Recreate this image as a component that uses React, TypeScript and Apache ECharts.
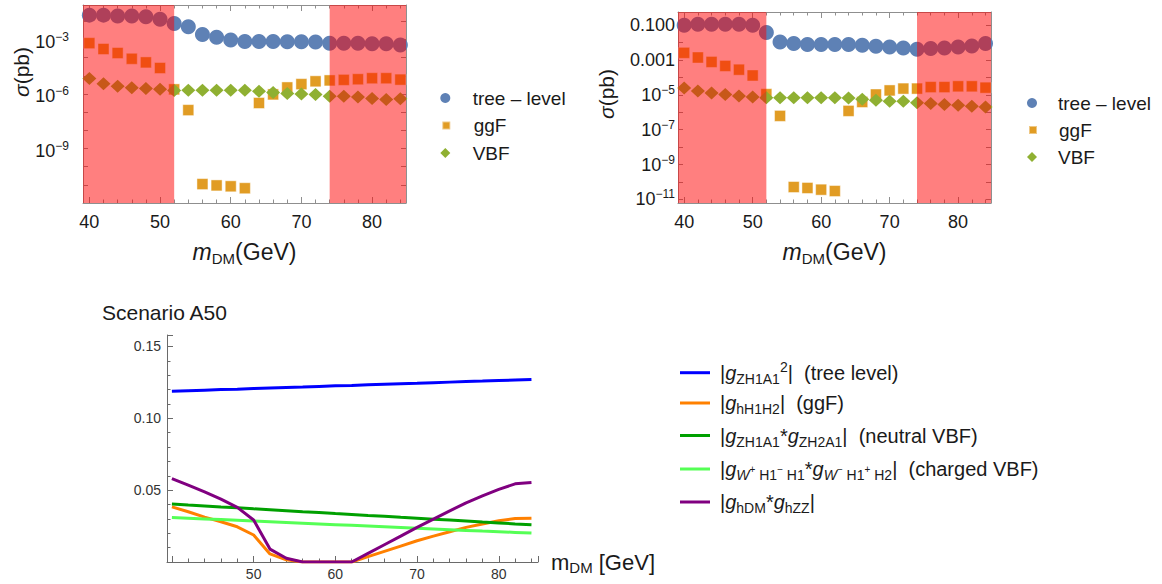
import React, { useEffect, useRef } from 'react';
import * as echarts from 'echarts';

// ---------- data ----------
const mDM = [40, 42, 44, 46, 48, 50, 52, 54, 56, 58, 60, 62, 64, 66, 68, 70, 72, 74, 76, 78, 80, 82, 84];

// left panel, sigma in pb
const sigmaTreeL = [2.2e-2, 2.2e-2, 2.0e-2, 2.0e-2, 1.8e-2, 1.3e-2, 7.5e-3, 5.1e-3, 1.9e-3, 1.35e-3, 9.5e-4, 7.8e-4, 7.8e-4, 7.8e-4, 7.6e-4, 7.6e-4, 7.4e-4, 6.3e-4, 6.3e-4, 6.2e-4, 5.8e-4, 5.8e-4, 5.0e-4];
const sigmaGgfL = [6.3e-4, 3.0e-4, 1.8e-4, 8.7e-5, 5.5e-5, 2.7e-5, 1.8e-6, 1.3e-7, 1.1e-11, 9.3e-12, 8.3e-12, 6.5e-12, 3.2e-7, 9.5e-7, 2.3e-6, 3.5e-6, 5.0e-6, 5.6e-6, 6.0e-6, 6.5e-6, 7.4e-6, 7.4e-6, 6.2e-6];
const sigmaVbfL = [7.1e-6, 3.7e-6, 2.7e-6, 2.2e-6, 2.0e-6, 1.8e-6, 1.55e-6, 1.6e-6, 1.6e-6, 1.6e-6, 1.6e-6, 1.6e-6, 1.4e-6, 1.2e-6, 1.07e-6, 1.0e-6, 9.3e-7, 7.6e-7, 7.6e-7, 6.8e-7, 5.6e-7, 5.0e-7, 5.5e-7];

// right panel, sigma in pb
const sigmaTreeR = [0.1, 0.115, 0.115, 0.115, 0.115, 0.1, 0.038, 0.011, 8.9e-3, 7.8e-3, 7.8e-3, 7.8e-3, 7.8e-3, 7.1e-3, 6.2e-3, 5.6e-3, 5.0e-3, 4.2e-3, 4.6e-3, 5.0e-3, 5.6e-3, 6.5e-3, 8.9e-3];
const sigmaGgfR = [2.6e-3, 1.4e-3, 7.8e-4, 4.6e-4, 2.8e-4, 1.3e-4, 1.1e-5, 6.2e-7, 5.1e-11, 4.5e-11, 3.6e-11, 3.0e-11, 1.2e-6, 3.9e-6, 1.05e-5, 1.8e-5, 2.3e-5, 2.3e-5, 2.8e-5, 2.8e-5, 3.1e-5, 3.1e-5, 2.6e-5];
const sigmaVbfR = [2.5e-5, 1.66e-5, 1.3e-5, 1.05e-5, 8.7e-6, 7.6e-6, 6.9e-6, 6.9e-6, 6.9e-6, 6.9e-6, 6.9e-6, 6.9e-6, 6.6e-6, 5.6e-6, 4.9e-6, 4.3e-6, 4.3e-6, 3.5e-6, 3.2e-6, 2.8e-6, 2.5e-6, 2.2e-6, 2.0e-6];

// excluded mass bands (GeV)
const bandsX = [[39.1, 52], [74, 84.8]];

// Scenario A50 couplings
const gTree = [0.1188, 0.1192, 0.1196, 0.12, 0.1203, 0.1207, 0.1211, 0.1215, 0.1218, 0.1222, 0.1226, 0.1229, 0.1233, 0.1237, 0.1241, 0.1244, 0.1248, 0.1252, 0.1256, 0.1259, 0.1263, 0.1267, 0.1271];
const gGgf = [0.0384, 0.035, 0.0312, 0.028, 0.0245, 0.0188, 0.0056, 0.0015, 0, 0, 0, 0, 0.0037, 0.0074, 0.0111, 0.0148, 0.018, 0.0211, 0.0241, 0.0265, 0.0287, 0.0303, 0.0305];
const gNeutral = [0.0403, 0.0396, 0.039, 0.0383, 0.0377, 0.037, 0.0364, 0.0357, 0.035, 0.0344, 0.0337, 0.0331, 0.0324, 0.0318, 0.0311, 0.0305, 0.0298, 0.0292, 0.0285, 0.0278, 0.0272, 0.0265, 0.0259];
const gCharged = [0.031, 0.0305, 0.03, 0.0295, 0.029, 0.0285, 0.028, 0.0275, 0.027, 0.0265, 0.026, 0.0255, 0.025, 0.0245, 0.024, 0.0235, 0.023, 0.0225, 0.022, 0.0215, 0.0211, 0.0206, 0.0201];
const gHdm = [0.0581, 0.0535, 0.0488, 0.0437, 0.038, 0.0292, 0.009, 0.0026, 0, 0, 0, 0, 0.006, 0.012, 0.018, 0.0241, 0.0299, 0.0356, 0.0412, 0.046, 0.0505, 0.0544, 0.0553];

// tick labels
const xTickLabels = [40, 50, 60, 70, 80];
const leftLogLabels = [-3, -6, -9];
const rightLogLabels = [-1, -3, -5, -7, -9, -11];
const bottomXLabels = [50, 60, 70, 80];
const bottomYLabels = [0.05, 0.1, 0.15];

// ---------- style ----------
const FONT = "'Liberation Sans', Arial, Helvetica, sans-serif";
const INK = '#1a1a1a';
const FRAME = '#8f8f8f';
const BAND = 'rgba(255,0,0,0.5)';
const C_TREE = '#5E81B5';
const C_GGF = '#E19C24';
const C_VBF = '#8FB032';

const supRich = {
  b: { fontFamily: FONT, fontSize: 18, lineHeight: 22, color: INK },
  p: { fontFamily: FONT, fontSize: 12, lineHeight: 12, verticalAlign: 'top', color: INK },
};

const isInt = (v: number) => Math.abs(v - Math.round(v)) < 1e-6;

const frameX = (gridIndex: number, position: string, labels: boolean, min: number, max: number) => ({
  type: 'value',
  gridIndex,
  position,
  min,
  max,
  minInterval: 10,
  maxInterval: 10,
  axisLine: { show: true, onZero: false, lineStyle: { color: FRAME, width: 1 } },
  axisTick: { show: true, inside: true, length: 6, lineStyle: { color: FRAME } },
  minorTick: { show: true, splitNumber: 5, length: 3.5, lineStyle: { color: FRAME } },
  splitLine: { show: false },
  minorSplitLine: { show: false },
  axisLabel: labels
    ? {
        show: true,
        margin: 10,
        fontFamily: FONT,
        fontSize: 18,
        color: INK,
        formatter: (v: number) => (xTickLabels.some((t) => Math.abs(t - v) < 1e-6) ? String(Math.round(v)) : ''),
      }
    : { show: false },
  name: labels ? '{mi|m}{sb|DM}{n|(GeV)}' : '',
  nameLocation: 'middle',
  nameGap: 35,
  nameTextStyle: {
    rich: {
      mi: { fontFamily: FONT, fontSize: 23, lineHeight: 28, fontStyle: 'italic', color: INK },
      sb: { fontFamily: FONT, fontSize: 15, lineHeight: 16, verticalAlign: 'bottom', color: INK },
      n: { fontFamily: FONT, fontSize: 23, lineHeight: 28, color: INK },
    },
  },
});

const frameY = (gridIndex: number, position: string, labelFn: null | ((v: number) => string), min: number, max: number, margin: number, pad: number[]) => ({
  type: 'value',
  gridIndex,
  position,
  min,
  max,
  minInterval: 1,
  maxInterval: 1,
  axisLine: { show: true, onZero: false, lineStyle: { color: FRAME, width: 1 } },
  axisTick: { show: true, inside: true, length: 5, lineStyle: { color: FRAME } },
  splitLine: { show: false },
  axisLabel: labelFn
    ? { show: true, margin, padding: pad, formatter: labelFn, rich: supRich }
    : { show: false },
});

const leftLabel = (v: number) => {
  if (!isInt(v)) return '';
  const e = Math.round(v);
  return leftLogLabels.includes(e) ? `{b|10}{p|−${Math.abs(e)}}` : '';
};
const rightLabel = (v: number) => {
  if (!isInt(v)) return '';
  const e = Math.round(v);
  if (!rightLogLabels.includes(e)) return '';
  if (e === -1) return '{b|0.100}';
  if (e === -3) return '{b|0.001}';
  return `{b|10}{p|−${Math.abs(e)}}`;
};

const pts = (vals: number[]) => mDM.map((x, i) => [x, Math.log10(vals[i])]);
const linePts = (vals: number[]) => mDM.map((x, i) => [x, vals[i]]);

const scatter = (name: string, vals: number[], idx: number, symbol: string, size: any, color: string, border: boolean) => ({
  type: 'scatter',
  name,
  xAxisIndex: idx,
  yAxisIndex: idx,
  data: pts(vals),
  symbol,
  symbolSize: size,
  itemStyle: border
    ? { color, opacity: 1, borderColor: 'rgba(255,255,255,0.45)', borderWidth: 1 }
    : { color, opacity: 1 },
  emphasis: { disabled: true },
  z: 2,
});

const bandSeries = (idx: number, yMid: number) => ({
  type: 'custom',
  xAxisIndex: idx,
  yAxisIndex: idx,
  z: 10,
  silent: true,
  data: bandsX,
  renderItem: (params: any, api: any) => {
    const a = api.coord([api.value(0), yMid]);
    const b = api.coord([api.value(1), yMid]);
    const cs = params.coordSys;
    return {
      type: 'rect',
      shape: { x: a[0], y: cs.y, width: b[0] - a[0], height: cs.height },
      style: { fill: BAND },
    };
  },
});

const markerLegend = (name: string, icon: string, size: number, cx: number, cy: number, textX: number) => ({
  show: true,
  orient: 'horizontal',
  left: cx - size / 2,
  top: cy - 11,
  padding: 0,
  itemWidth: size,
  itemHeight: size,
  icon,
  selectedMode: false,
  data: [name],
  textStyle: {
    fontFamily: FONT,
    fontSize: 19,
    lineHeight: 22,
    color: INK,
    padding: [0, 0, 0, textX - (cx + size / 2) - 5],
  },
});

const TREE = 'tree – level';
const legendRich = {
  n: { fontFamily: FONT, fontSize: 20, lineHeight: 26, color: INK },
  g: { fontFamily: FONT, fontSize: 20, lineHeight: 26, fontStyle: 'italic', color: INK },
  s: { fontFamily: FONT, fontSize: 14, lineHeight: 16, verticalAlign: 'bottom', color: INK },
  si: { fontFamily: FONT, fontSize: 14, lineHeight: 16, verticalAlign: 'bottom', fontStyle: 'italic', color: INK },
  p: { fontFamily: FONT, fontSize: 14, lineHeight: 16, verticalAlign: 'top', color: INK },
  q: { fontFamily: FONT, fontSize: 10, lineHeight: 12, color: INK },
};
const legendText: Record<string, string> = {
  'tree level': '{n||}{g|g}{s|ZH1A1}{p|2}{n||  (tree level)}',
  'ggF coupling': '{n||}{g|g}{s|hH1H2}{n||  (ggF)}',
  'neutral VBF': '{n||}{g|g}{s|ZH1A1}{n|*}{g|g}{s|ZH2A1}{n||  (neutral VBF)}',
  'charged VBF': '{n||}{g|g}{si|W}{q|+}{s| H1}{q|−}{s| H1}{n|*}{g|g}{si|W}{q|−}{s| H1}{q|+}{s| H2}{n||  (charged VBF)}',
  hDMhZZ: '{n||}{g|g}{s|hDM}{n|*}{g|g}{s|hZZ}{n||}',
};
const lineLegendRows: [string, number][] = [
  ['tree level', 372.7],
  ['ggF coupling', 406],
  ['neutral VBF', 438.5],
  ['charged VBF', 472],
  ['hDMhZZ', 505],
];
const lineLegend = (name: string, cy: number) => ({
  show: true,
  orient: 'horizontal',
  left: 680,
  top: cy - 13,
  padding: 0,
  itemWidth: 30,
  itemHeight: 3,
  icon: 'rect',
  selectedMode: false,
  data: [name],
  formatter: (n: string) => legendText[n],
  textStyle: { rich: legendRich, padding: [0, 0, 0, 5] },
});

const lineSeries = (name: string, vals: number[], color: string) => ({
  type: 'line',
  name,
  xAxisIndex: 4,
  yAxisIndex: 4,
  data: linePts(vals),
  symbol: 'none',
  lineStyle: { color, width: 3 },
  itemStyle: { color },
  emphasis: { disabled: true },
});

const sigmaText = (x: number, y: number) => ({
  type: 'text',
  x,
  y,
  rotation: Math.PI / 2,
  silent: true,
  style: {
    text: '{i|σ}{n|(pb)}',
    align: 'center',
    verticalAlign: 'middle',
    rich: {
      i: { fontFamily: FONT, fontSize: 21, fontStyle: 'italic', fill: INK, lineHeight: 24 },
      n: { fontFamily: FONT, fontSize: 21, fill: INK, lineHeight: 24 },
    },
  },
});

const option: any = {
  animation: false,
  backgroundColor: '#ffffff',
  title: {
    text: 'Scenario A50',
    left: 102,
    top: 300,
    padding: 0,
    textStyle: { fontFamily: FONT, fontSize: 21, fontWeight: 'normal', color: INK, lineHeight: 24 },
  },
  grid: [
    { left: 83, top: 5, width: 323, height: 198, containLabel: false, outerBoundsMode: 'none' },
    { left: 678, top: 12, width: 313, height: 191, containLabel: false, outerBoundsMode: 'none' },
    { left: 167, top: 335, width: 371, height: 227, containLabel: false, outerBoundsMode: 'none' },
  ],
  xAxis: [
    frameX(0, 'bottom', true, 39.1, 84.8),
    frameX(0, 'top', false, 39.1, 84.8),
    frameX(1, 'bottom', true, 39.1, 84.8),
    frameX(1, 'top', false, 39.1, 84.8),
    {
      type: 'value',
      gridIndex: 2,
      position: 'bottom',
      min: 39.4,
      max: 84.8,
      minInterval: 10,
      maxInterval: 10,
      axisLine: { show: true, lineStyle: { color: '#6a6a6a', width: 1 } },
      axisTick: { show: true, inside: true, length: 6, lineStyle: { color: '#6a6a6a' } },
      minorTick: { show: true, splitNumber: 5, length: 3.5, lineStyle: { color: '#6a6a6a' } },
      splitLine: { show: false },
      axisLabel: {
        margin: 5,
        fontFamily: FONT,
        fontSize: 14,
        color: '#333',
        formatter: (v: number) => (bottomXLabels.some((t) => Math.abs(t - v) < 1e-6) ? String(Math.round(v)) : ''),
      },
      name: '{n|m}{sb|DM}{n| [GeV]}',
      nameLocation: 'end',
      nameGap: 13,
      nameTextStyle: {
        rich: {
          n: { fontFamily: FONT, fontSize: 22, lineHeight: 26, color: INK },
          sb: { fontFamily: FONT, fontSize: 15, lineHeight: 16, verticalAlign: 'bottom', color: INK },
        },
      },
    },
  ],
  yAxis: [
    frameY(0, 'left', leftLabel, -12, -1.1, 14, [4, 0, 0, 0]),
    frameY(0, 'right', null, -12, -1.1, 0, [0, 0, 0, 0]),
    frameY(1, 'left', rightLabel, -11.21, -0.24, 3, [0, 0, 0, 0]),
    frameY(1, 'right', null, -11.21, -0.24, 0, [0, 0, 0, 0]),
    {
      type: 'value',
      gridIndex: 2,
      position: 'left',
      min: 0,
      max: 0.158,
      minInterval: 0.05,
      maxInterval: 0.05,
      axisLine: { show: true, lineStyle: { color: '#6a6a6a', width: 1 } },
      axisTick: { show: true, inside: true, length: 6, lineStyle: { color: '#6a6a6a' } },
      minorTick: { show: true, splitNumber: 5, length: 3.5, lineStyle: { color: '#6a6a6a' } },
      splitLine: { show: false },
      axisLabel: {
        margin: 6,
        fontFamily: FONT,
        fontSize: 14,
        color: '#333',
        formatter: (v: number) => (bottomYLabels.some((t) => Math.abs(t - v) < 1e-9) ? v.toFixed(2) : ''),
      },
    },
  ],
  legend: [
    markerLegend(TREE, 'circle', 10, 445.3, 98, 472.7),
    markerLegend('ggF', 'rect', 8, 445.3, 125.5, 472.7),
    markerLegend('VBF', 'diamond', 10, 445.3, 153, 472.7),
    markerLegend(TREE, 'circle', 10, 1032, 103, 1058),
    markerLegend('ggF', 'rect', 8, 1032, 130, 1058),
    markerLegend('VBF', 'diamond', 10, 1032, 157, 1058),
    ...lineLegendRows.map(([n, cy]) => lineLegend(n, cy)),
  ],
  graphic: [sigmaText(21, 72), sigmaText(606, 94)],
  series: [
    scatter(TREE, sigmaTreeL, 0, 'circle', 15, C_TREE, false),
    scatter('ggF', sigmaGgfL, 0, 'rect', 11, C_GGF, true),
    scatter('VBF', sigmaVbfL, 0, 'diamond', [14, 13], C_VBF, false),
    bandSeries(0, -5),
    scatter(TREE, sigmaTreeR, 2, 'circle', 15, C_TREE, false),
    scatter('ggF', sigmaGgfR, 2, 'rect', 11, C_GGF, true),
    scatter('VBF', sigmaVbfR, 2, 'diamond', [14, 13], C_VBF, false),
    bandSeries(2, -5),
    lineSeries('tree level', gTree, '#0000FF'),
    lineSeries('ggF coupling', gGgf, '#FF8000'),
    lineSeries('neutral VBF', gNeutral, '#00A000'),
    lineSeries('charged VBF', gCharged, '#55FF55'),
    lineSeries('hDMhZZ', gHdm, '#800080'),
  ],
};

export default function App() {
  const ref = useRef<HTMLDivElement>(null);
  useEffect(() => {
    if (!ref.current) return;
    const chart = echarts.init(ref.current, null, { renderer: 'svg' });
    chart.setOption(option);
    return () => chart.dispose();
  }, []);
  return <div ref={ref} style={{ position: 'absolute', left: 0, top: 0, width: 1162, height: 584 }} />;
}
